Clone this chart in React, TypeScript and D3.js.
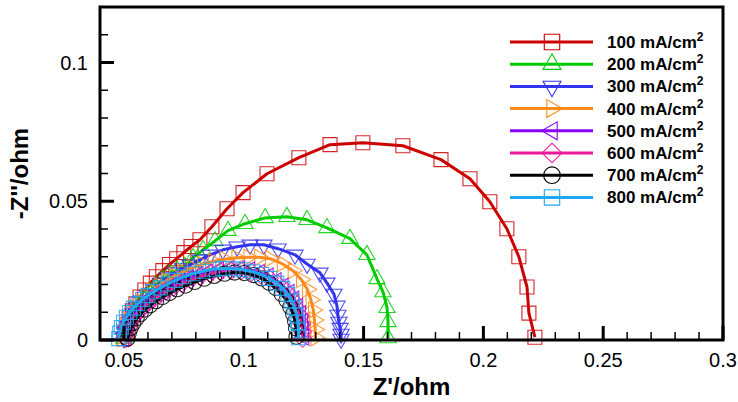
import React from 'react';
import * as d3 from 'd3';

// current density labels
const seriesNames = ['100', '200', '300', '400', '500', '600', '700', '800'];
const seriesColors = ['#cc0000', '#00cc00', '#3333ee', '#ff8a1c', '#8a00ff', '#f0189a', '#000000', '#1ea8f0'];
const seriesMarkers = ['square', 'triUp', 'triDown', 'triRight', 'triLeft', 'diamond', 'circle', 'square'];

// Z' (ohm) and -Z'' (ohm)
const x100 = [0.0500, 0.0505, 0.0512, 0.0522, 0.0535, 0.0550, 0.0567, 0.0587, 0.0610, 0.0635, 0.0662, 0.0690, 0.0720, 0.0750, 0.0780, 0.0817, 0.0867, 0.0930, 0.0997, 0.1097, 0.1230, 0.1360, 0.1497, 0.1664, 0.1823, 0.1944, 0.2027, 0.2098, 0.2148, 0.2182, 0.2190, 0.2215];
const y100 = [0.0005, 0.0030, 0.0055, 0.0080, 0.0105, 0.0130, 0.0155, 0.0180, 0.0205, 0.0228, 0.0250, 0.0272, 0.0293, 0.0315, 0.0337, 0.0361, 0.0408, 0.0473, 0.0531, 0.0599, 0.0657, 0.0704, 0.0711, 0.0700, 0.0650, 0.0581, 0.0498, 0.0401, 0.0300, 0.0191, 0.0097, 0.0010];

const x200 = [0.0500, 0.0505, 0.0513, 0.0525, 0.0540, 0.0558, 0.0580, 0.0605, 0.0632, 0.0660, 0.0690, 0.0722, 0.0755, 0.0788, 0.0830, 0.0880, 0.0934, 0.1005, 0.1089, 0.1180, 0.1264, 0.1347, 0.1443, 0.1514, 0.1556, 0.1581, 0.1598, 0.1602, 0.1602];
const y200 = [0.0005, 0.0028, 0.0052, 0.0076, 0.0100, 0.0124, 0.0148, 0.0172, 0.0196, 0.0218, 0.0238, 0.0252, 0.0264, 0.0296, 0.0325, 0.0357, 0.0394, 0.0419, 0.0440, 0.0444, 0.0433, 0.0404, 0.0365, 0.0307, 0.0220, 0.0173, 0.0116, 0.0065, 0.0007];

const x300 = [0.0500, 0.0505, 0.0513, 0.0524, 0.0538, 0.0555, 0.0575, 0.0598, 0.0623, 0.0652, 0.0683, 0.0715, 0.0745, 0.0776, 0.0817, 0.0859, 0.0913, 0.0972, 0.1026, 0.1084, 0.1143, 0.1214, 0.1264, 0.1318, 0.1347, 0.1376, 0.1389, 0.1393, 0.1397, 0.1402, 0.1406, 0.1406];
const y300 = [0.0005, 0.0027, 0.0050, 0.0073, 0.0096, 0.0119, 0.0141, 0.0163, 0.0184, 0.0205, 0.0225, 0.0243, 0.0258, 0.0271, 0.0289, 0.0307, 0.0325, 0.0336, 0.0343, 0.0343, 0.0329, 0.0307, 0.0274, 0.0242, 0.0206, 0.0166, 0.0123, 0.0090, 0.0065, 0.0043, 0.0022, 0.0004];

const x400 = [0.0495, 0.0500, 0.0508, 0.0519, 0.0533, 0.0550, 0.0570, 0.0593, 0.0618, 0.0646, 0.0677, 0.0710, 0.0746, 0.0785, 0.0827, 0.0872, 0.0920, 0.0970, 0.1020, 0.1065, 0.1110, 0.1160, 0.1205, 0.1240, 0.1265, 0.1280, 0.1290, 0.1295, 0.1298, 0.1300];
const y400 = [0.0005, 0.0027, 0.0050, 0.0072, 0.0094, 0.0116, 0.0137, 0.0157, 0.0177, 0.0196, 0.0214, 0.0231, 0.0246, 0.0260, 0.0273, 0.0283, 0.0291, 0.0296, 0.0298, 0.0298, 0.0293, 0.0275, 0.0250, 0.0218, 0.0183, 0.0145, 0.0108, 0.0072, 0.0038, 0.0008];

const x500 = [0.0500, 0.0504, 0.0511, 0.0521, 0.0534, 0.0549, 0.0567, 0.0588, 0.0611, 0.0637, 0.0666, 0.0698, 0.0733, 0.0770, 0.0810, 0.0852, 0.0896, 0.0940, 0.0984, 0.1026, 0.1066, 0.1103, 0.1136, 0.1165, 0.1190, 0.1210, 0.1226, 0.1238, 0.1246, 0.1250, 0.1252];
const y500 = [0.0005, 0.0025, 0.0046, 0.0066, 0.0085, 0.0103, 0.0120, 0.0136, 0.0152, 0.0167, 0.0182, 0.0196, 0.0210, 0.0223, 0.0235, 0.0245, 0.0252, 0.0256, 0.0256, 0.0252, 0.0243, 0.0230, 0.0213, 0.0193, 0.0171, 0.0147, 0.0121, 0.0094, 0.0066, 0.0038, 0.0010];

const x600 = [0.0508, 0.0512, 0.0519, 0.0529, 0.0542, 0.0558, 0.0576, 0.0597, 0.0620, 0.0646, 0.0675, 0.0707, 0.0742, 0.0779, 0.0818, 0.0860, 0.0903, 0.0947, 0.0990, 0.1032, 0.1071, 0.1107, 0.1139, 0.1167, 0.1190, 0.1209, 0.1224, 0.1235, 0.1242, 0.1245, 0.1246];
const y600 = [0.0005, 0.0025, 0.0045, 0.0064, 0.0082, 0.0099, 0.0115, 0.0131, 0.0146, 0.0161, 0.0176, 0.0190, 0.0204, 0.0217, 0.0229, 0.0239, 0.0246, 0.0250, 0.0249, 0.0244, 0.0235, 0.0222, 0.0205, 0.0185, 0.0163, 0.0139, 0.0113, 0.0086, 0.0058, 0.0030, 0.0006];

const x700 = [0.0515, 0.0520, 0.0528, 0.0539, 0.0553, 0.0569, 0.0588, 0.0610, 0.0634, 0.0661, 0.0690, 0.0722, 0.0757, 0.0795, 0.0835, 0.0877, 0.0920, 0.0962, 0.1002, 0.1040, 0.1075, 0.1106, 0.1134, 0.1158, 0.1178, 0.1194, 0.1206, 0.1214, 0.1218, 0.1220];
const y700 = [0.0005, 0.0024, 0.0043, 0.0061, 0.0078, 0.0094, 0.0110, 0.0125, 0.0140, 0.0155, 0.0169, 0.0183, 0.0196, 0.0209, 0.0221, 0.0231, 0.0239, 0.0243, 0.0241, 0.0234, 0.0222, 0.0206, 0.0187, 0.0166, 0.0143, 0.0119, 0.0094, 0.0068, 0.0042, 0.0012];

const x800 = [0.0478, 0.0482, 0.0489, 0.0498, 0.0510, 0.0524, 0.0540, 0.0558, 0.0578, 0.0600, 0.0625, 0.0652, 0.0682, 0.0715, 0.0750, 0.0788, 0.0828, 0.0870, 0.0912, 0.0955, 0.0997, 0.1037, 0.1075, 0.1108, 0.1138, 0.1163, 0.1184, 0.1201, 0.1213, 0.1221, 0.1226, 0.1228, 0.1229];
const y800 = [0.0005, 0.0025, 0.0045, 0.0064, 0.0082, 0.0099, 0.0115, 0.0131, 0.0146, 0.0160, 0.0174, 0.0188, 0.0202, 0.0215, 0.0228, 0.0239, 0.0248, 0.0255, 0.0258, 0.0257, 0.0253, 0.0246, 0.0236, 0.0222, 0.0205, 0.0186, 0.0164, 0.0141, 0.0116, 0.0090, 0.0063, 0.0035, 0.0008];

const seriesX = [x100, x200, x300, x400, x500, x600, x700, x800];
const seriesY = [y100, y200, y300, y400, y500, y600, y700, y800];

const xMajor = [0.05, 0.1, 0.15, 0.2, 0.25, 0.3];
const xMajorLabels = ['0.05', '0.1', '0.15', '0.2', '0.25', '0.3'];
const yMajor = [0, 0.05, 0.1];
const yMajorLabels = ['0', '0.05', '0.1'];

const W = 738, H = 402;
const margin = { top: 7, right: 15, bottom: 62, left: 100 };

// path for a marker kind, centred on 0,0
function markerPath(kind: string, scale = 1) {
  const tri = d3.symbol().type(d3.symbolTriangle).size(115 * scale * scale)();
  switch (kind) {
    case 'square': return { d: d3.symbol().type(d3.symbolSquare).size(196 * scale * scale)(), rot: 0 };
    case 'diamond': return { d: d3.symbol().type(d3.symbolSquare).size(160 * scale * scale)(), rot: 45 };
    case 'circle': return { d: d3.symbol().type(d3.symbolCircle).size(180 * scale * scale)(), rot: 0 };
    case 'triUp': return { d: tri, rot: 0 };
    case 'triDown': return { d: tri, rot: 180 };
    case 'triRight': return { d: tri, rot: 90 };
    case 'triLeft': return { d: tri, rot: -90 };
  }
  return { d: '', rot: 0 };
}

export default function App() {
  const x = d3.scaleLinear().domain([0.04, 0.3]).range([margin.left, W - margin.right]);
  const y = d3.scaleLinear().domain([0, 0.12]).range([H - margin.bottom, margin.top]);
  const x0 = margin.left, x1 = W - margin.right, yb = H - margin.bottom, yt = margin.top;

  const xMinor = d3.range(0.05, 0.3001, 0.01).filter(v => !xMajor.some(m => Math.abs(m - v) < 1e-6));
  const yMinor = d3.range(0, 0.1201, 0.01).filter(v => !yMajor.some(m => Math.abs(m - v) < 1e-6));

  const line = d3.line<[number, number]>().x(d => x(d[0])).y(d => y(d[1]));
  const font = '"Liberation Sans", Arial, sans-serif';

  return (
    <svg width={W} height={H} style={{ position: 'absolute', left: 0, top: 0 }} fontFamily={font}>
      <rect width={W} height={H} fill="#fff" />
      <defs>
        <clipPath id="plot"><rect x={x0} y={yt} width={x1 - x0} height={yb - yt + 10} /></clipPath>
      </defs>
      {/* series */}
      <g clipPath="url(#plot)">
        {seriesNames.map((n, i) => {
          const pts = seriesX[i].map((v, j) => [v, seriesY[i][j]] as [number, number]);
          const m = markerPath(seriesMarkers[i]);
          return (
            <g key={n}>
              <path d={line(pts) || ''} fill="none" stroke={seriesColors[i]} strokeWidth={3} strokeLinejoin="round" />
              {pts.map((p, j) => (
                <path key={j} d={m.d || ''} transform={`translate(${x(p[0])},${y(p[1])}) rotate(${m.rot})`}
                  fill="none" stroke={seriesColors[i]} strokeWidth={1.1} strokeOpacity={0.85} />
              ))}
            </g>
          );
        })}
      </g>
      {/* ticks */}
      {xMajor.map(v => <line key={'xM' + v} x1={x(v)} x2={x(v)} y1={yb} y2={yb - 14} stroke="#000" strokeWidth={3} />)}
      {xMinor.map(v => <line key={'xm' + v} x1={x(v)} x2={x(v)} y1={yb} y2={yb - 8} stroke="#000" strokeWidth={1.5} />)}
      {yMajor.map(v => <line key={'yM' + v} x1={x0} x2={x0 + 14} y1={y(v)} y2={y(v)} stroke="#000" strokeWidth={3} />)}
      {yMinor.map(v => <line key={'ym' + v} x1={x0} x2={x0 + 8} y1={y(v)} y2={y(v)} stroke="#000" strokeWidth={1.5} />)}
      {/* frame */}
      <rect x={x0} y={yt} width={x1 - x0} height={yb - yt} fill="none" stroke="#000" strokeWidth={3} />
      {/* tick labels */}
      {xMajor.map((v, i) => (
        <text key={'xl' + v} x={x(v)} y={yb + 27} textAnchor="middle" fontSize={20} fill="#000">{xMajorLabels[i]}</text>
      ))}
      {yMajor.map((v, i) => (
        <text key={'yl' + v} x={x0 - 12} y={y(v) + 7} textAnchor="end" fontSize={20} fill="#000">{yMajorLabels[i]}</text>
      ))}
      {/* axis titles */}
      <text x={(x0 + x1) / 2} y={H - 7} textAnchor="middle" fontSize={24} fontWeight="bold">Z'/ohm</text>
      <text transform={`translate(28,${(yt + yb) / 2}) rotate(-90)`} textAnchor="middle" fontSize={24} fontWeight="bold">-Z''/ohm</text>
      {/* legend */}
      {seriesNames.map((n, i) => {
        const ly = 42 + i * 22.2;
        const m = markerPath(seriesMarkers[i], 1.1);
        return (
          <g key={'lg' + n}>
            <line x1={510} x2={593} y1={ly} y2={ly} stroke={seriesColors[i]} strokeWidth={3} />
            <path d={m.d || ''} transform={`translate(552,${ly}) rotate(${m.rot})`} fill="none" stroke={seriesColors[i]} strokeWidth={1.1} />
            <text x={607} y={ly + 6} fontSize={17} fontWeight="bold" fill="#000">
              {n} mA/cm<tspan dy={-7} fontSize={12}>2</tspan>
            </text>
          </g>
        );
      })}
    </svg>
  );
}
